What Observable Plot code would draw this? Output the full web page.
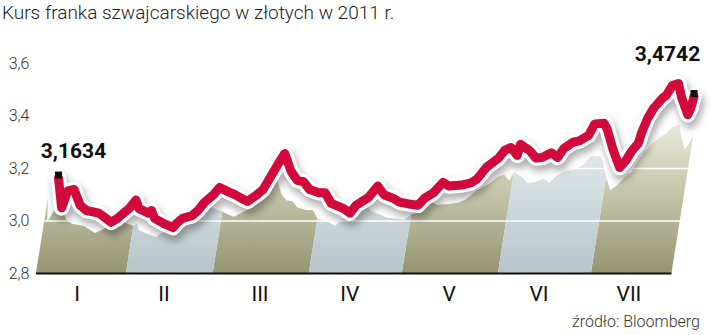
<!DOCTYPE html>
<html><head><meta charset="utf-8">
<script src="https://cdn.jsdelivr.net/npm/d3@7"></script>
<script src="https://cdn.jsdelivr.net/npm/@observablehq/plot@0.6"></script>
<style>
body{margin:0;background:#fff;width:720px;height:335px;overflow:hidden;font-family:Roboto,"Liberation Sans",sans-serif;}
#title{height:26px;box-sizing:border-box;padding:3px 0 0 2px;font-size:19px;line-height:19px;font-weight:300;color:#222;white-space:nowrap;}
#chart{height:286px;}
#source{height:23px;box-sizing:border-box;padding:2px 20px 0 0;text-align:right;font-size:16px;line-height:16px;font-weight:300;color:#333;}
</style></head><body>
<div id="title">Kurs franka szwajcarskiego w złotych w 2011 r.</div>
<div id="chart"></div>
<div id="source">źródło: Bloomberg</div>
<script>
const dates = ["2011-01-03","2011-01-04","2011-01-06","2011-01-08","2011-01-10","2011-01-12","2011-01-16","2011-01-18","2011-01-20","2011-01-22","2011-01-24","2011-01-26","2011-01-28","2011-01-29",
"2011-02-01","2011-02-02","2011-02-03","2011-02-06","2011-02-09","2011-02-10","2011-02-12","2011-02-15","2011-02-17","2011-02-19","2011-02-22","2011-02-24","2011-02-27",
"2011-03-01","2011-03-03","2011-03-05","2011-03-08","2011-03-10","2011-03-12","2011-03-15","2011-03-17","2011-03-19","2011-03-21","2011-03-23","2011-03-25","2011-03-28","2011-03-30",
"2011-04-01","2011-04-05","2011-04-07","2011-04-09","2011-04-13","2011-04-16","2011-04-18","2011-04-21","2011-04-23","2011-04-26","2011-04-29",
"2011-05-01","2011-05-04","2011-05-07","2011-05-09","2011-05-13","2011-05-16","2011-05-18","2011-05-21","2011-05-25","2011-05-27","2011-05-29","2011-05-31",
"2011-06-01","2011-06-04","2011-06-06","2011-06-08","2011-06-11","2011-06-13","2011-06-15","2011-06-18","2011-06-20","2011-06-23","2011-06-25","2011-06-28","2011-06-29",
"2011-07-01","2011-07-03","2011-07-05","2011-07-07","2011-07-09","2011-07-10","2011-07-12","2011-07-14","2011-07-17","2011-07-18","2011-07-20","2011-07-22","2011-07-23","2011-07-25","2011-07-26","2011-07-27"];
const values = [3.1634,3.05,3.115,3.12,3.06,3.04,3.03,3.013,2.995,3.01,3.03,3.05,3.08,3.047,
3.03,3.04,3.01,2.99,2.975,2.99,3.01,3.02,3.04,3.07,3.10,3.128,3.11,
3.10,3.086,3.075,3.10,3.12,3.16,3.22,3.257,3.19,3.155,3.15,3.12,3.108,3.108,
3.067,3.047,3.03,3.06,3.09,3.133,3.10,3.086,3.072,3.065,3.06,
3.086,3.108,3.147,3.133,3.137,3.145,3.16,3.204,3.24,3.27,3.28,3.25,
3.292,3.268,3.24,3.242,3.26,3.242,3.276,3.30,3.305,3.326,3.37,3.372,3.35,
3.268,3.204,3.23,3.268,3.295,3.333,3.39,3.43,3.47,3.478,3.516,3.524,3.47,3.405,3.43,3.4742];
const monthLabels = ["I","II","III","IV","V","VI","VII"];
const monthLabelDates = ["2011-01-09","2011-02-06","2011-03-09","2011-04-07","2011-05-09","2011-06-07","2011-07-06"];
const yTicks = [2.8, 3.0, 3.2, 3.4, 3.6];
const gridValues = [3.0, 3.2, 3.4];

const parse = d3.utcParse("%Y-%m-%d");
const data = dates.map((d, i) => ({date: parse(d), value: values[i], month: parse(d).getUTCMonth()}));
const first = data[0], last = data[data.length - 1];
const comma = (v, n) => v.toFixed(n).replace(".", ",");

// month segments for the bands (each segment also takes the first point of the next month)
const segs = [];
for (let m = 0; m <= 6; m++) {
  const pts = data.filter(d => d.month === m);
  const nxt = data.find(d => d.month === m + 1);
  if (nxt) pts.push(nxt);
  pts.forEach(p => segs.push({...p, seg: m}));
}
const oddSegs = segs.filter(d => d.seg % 2 === 0);
const evenSegs = segs.filter(d => d.seg % 2 === 1);

const plot = Plot.plot({
  width: 720, height: 286,
  marginLeft: 58, marginRight: 26.5, marginTop: 37, marginBottom: 39,
  style: {fontFamily: "Roboto, sans-serif", fontSize: "16px", fontWeight: 300, color: "#333", background: "transparent", overflow: "visible"},
  x: {type: "utc", domain: [first.date, last.date], axis: null},
  y: {domain: [2.8, 3.6], ticks: yTicks, tickSize: 0, tickPadding: 29, tickFormat: d => comma(d, 1), label: null},
  marks: [
    Plot.areaY(oddSegs, {x: "date", y1: 2.8, y2: "value", z: "seg", fill: "url(#gOlive)"}),
    Plot.areaY(evenSegs, {x: "date", y1: 2.8, y2: "value", z: "seg", fill: "url(#gBlue)"}),
    Plot.ruleY(gridValues, {stroke: "white", strokeWidth: 1.3, insetLeft: -25, insetRight: -10}),
    Plot.ruleY([2.8], {x1: first.date, x2: last.date, dx: -22, stroke: "#111", strokeWidth: 2}),
    Plot.line(data, {x: "date", y: "value", stroke: "#000", strokeOpacity: 0.3, strokeWidth: 17, dx: 2, dy: 5, strokeLinejoin: "round", strokeLinecap: "round"}),
    Plot.line(data, {x: "date", y: "value", stroke: "white", strokeWidth: 15.5, strokeLinejoin: "round", strokeLinecap: "round"}),
    Plot.line(data, {x: "date", y: "value", stroke: "#d20a3c", strokeWidth: 9, strokeLinejoin: "round", strokeLinecap: "round"}),
    Plot.dot([first, last], {x: "date", y: "value", symbol: "square", fill: "#111", r: 4, dy: -3}),
    Plot.text(monthLabels, {x: (d, i) => parse(monthLabelDates[i]), y: 2.8, text: d => d, dy: 21, fontSize: 21, fontWeight: 400, fill: "#111"}),
    Plot.text([first], {x: "date", y: "value", text: d => comma(d.value, 4), dx: 15, dy: -27, fontSize: 21, fontWeight: "bold", fill: "#111"}),
    Plot.text([last], {x: "date", y: "value", text: d => comma(d.value, 4), dx: -26.5, dy: -42.5, fontSize: 21, fontWeight: "bold", fill: "#111"})
  ]
});
document.getElementById("chart").appendChild(plot);

// defs: gradients and blur
const ys = plot.scale("y");
const yb = ys.apply(2.8), yt = ys.apply(3.6);
const defs = d3.select(plot).insert("defs", ":first-child");
function grad(id, stops) {
  const g = defs.append("linearGradient").attr("id", id).attr("gradientUnits", "userSpaceOnUse")
    .attr("x1", 0).attr("x2", 0).attr("y1", yt).attr("y2", yb);
  stops.forEach(([o, c]) => g.append("stop").attr("offset", o).attr("stop-color", c));
}
grad("gOlive", [[0, "#f0f0e6"], [0.4, "#cfcfb6"], [1, "#959572"]]);
grad("gBlue", [[0, "#f3f6f7"], [0.4, "#d8e1e4"], [1, "#b6c5ca"]]);
defs.append("filter").attr("id", "shadowBlur").attr("x", "-10%").attr("y", "-20%").attr("width", "120%").attr("height", "140%")
  .append("feGaussianBlur").attr("stdDeviation", 3.5);

const tf = `translate(-22,${yb}) skewX(-9) scale(1,0.78) translate(0,${-yb})`;
plot.querySelectorAll('g[aria-label="area"]').forEach(g => g.setAttribute("transform", tf));
const lines = plot.querySelectorAll('g[aria-label="line"]');
if (lines[0]) lines[0].setAttribute("filter", "url(#shadowBlur)");
</script>
</body></html>
